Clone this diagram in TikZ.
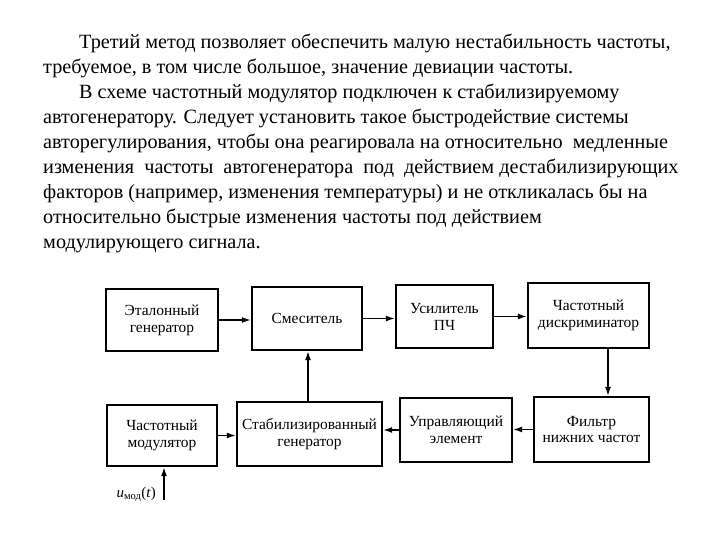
\documentclass[tikz,border=0pt]{standalone}
\usepackage{fontspec}
\newfontfamily\tnr{Liberation Serif}
\usetikzlibrary{arrows.meta}
\begin{document}
\begin{tikzpicture}[x=1bp,y=-1bp,
  blk/.style={draw=black, line width=2.2bp, fill=white, align=center, inner sep=1bp,
    font=\tnr\fontsize{15.5}{17}\selectfont},
  arr/.style={line width=1.5bp, -{Latex[length=9bp,width=6bp]}},
  para/.style={anchor=base west, inner sep=0pt, font=\tnr\fontsize{20.3}{24}\selectfont}]
\useasboundingbox (0,0) rectangle (720,540);
% paragraph text
\node[para] (l1) at (79,48.7)   {Третий метод позволяет обеспечить малую нестабильность частоты,};
\node[para] (l2) at (43,73.7)   {требуемое, в том числе большое, значение девиации частоты.};
\node[para] (l3) at (79,98.8)   {В схеме частотный модулятор подключен к стабилизируемому};
\node[para] (l4) at (43,123.8)  {автогенератору. Следует установить такое быстродействие системы};
\node[para] (l5) at (43,148.9)  {авторегулирования, чтобы она реагировала на относительно\ \ медленные};
\node[para] (l6) at (43,173.9)  {изменения\ \ частоты\ \ автогенератора\ \ под\ \ действием дестабилизирующих};
\node[para] (l7) at (43,198.9)  {факторов (например, изменения температуры) и не откликалась бы на};
\node[para] (l8) at (43,224)    {относительно быстрые изменения частоты под действием};
\node[para] (l9) at (43,249)    {модулирующего сигнала.};
% blocks
\node[blk, minimum width=112bp, minimum height=62bp] (et)  at (162,320)     {Эталонный\\генератор};
\node[blk, minimum width=110bp, minimum height=63bp] (sm)  at (307,318.5)   {Смеситель};
\node[blk, minimum width=97bp,  minimum height=63bp] (us)  at (444.5,316.5) {Усилитель\\ПЧ};
\node[blk, minimum width=121bp, minimum height=65bp] (dis) at (588.5,315.5) {Частотный\\дискриминатор};
\node[blk, minimum width=110bp, minimum height=61bp] (mod) at (162,435.5)   {Частотный\\модулятор};
\node[blk, minimum width=145bp, minimum height=64bp] (st)  at (309.5,434)   {Стабилизированный\\генератор};
\node[blk, minimum width=112bp, minimum height=64bp] (up)  at (456,430)     {Управляющий\\элемент};
\node[blk, minimum width=115bp, minimum height=65bp] (fil) at (591.5,429.5) {Фильтр\\нижних частот};
% connectors
\draw[arr] (et.east) -- (et.east -| sm.west);
\draw[arr] (sm.east) -- (sm.east -| us.west);
\draw[arr] (us.east) -- (us.east -| dis.west);
\draw[arr] ([xshift=19.5bp]dis.south) -- ([xshift=19.5bp]dis.south |- fil.north);
\draw[arr] (fil.west) -- (fil.west -| up.east);
\draw[arr] (up.west) -- (up.west -| st.east);
\draw[arr] (mod.east) -- (mod.east -| st.west);
\draw[arr] ([xshift=-1.5bp]st.north) -- ([xshift=-1.5bp]st.north |- sm.south);
\coordinate (u) at (164,500);
\draw[arr] (u) -- (u |- mod.south);
\node[anchor=base east, inner sep=0pt, font=\tnr\fontsize{15}{17}\selectfont] (ul) at (156,497)
  {\textit{u}\textsubscript{мод}(\textit{t})};
\end{tikzpicture}
\end{document}
